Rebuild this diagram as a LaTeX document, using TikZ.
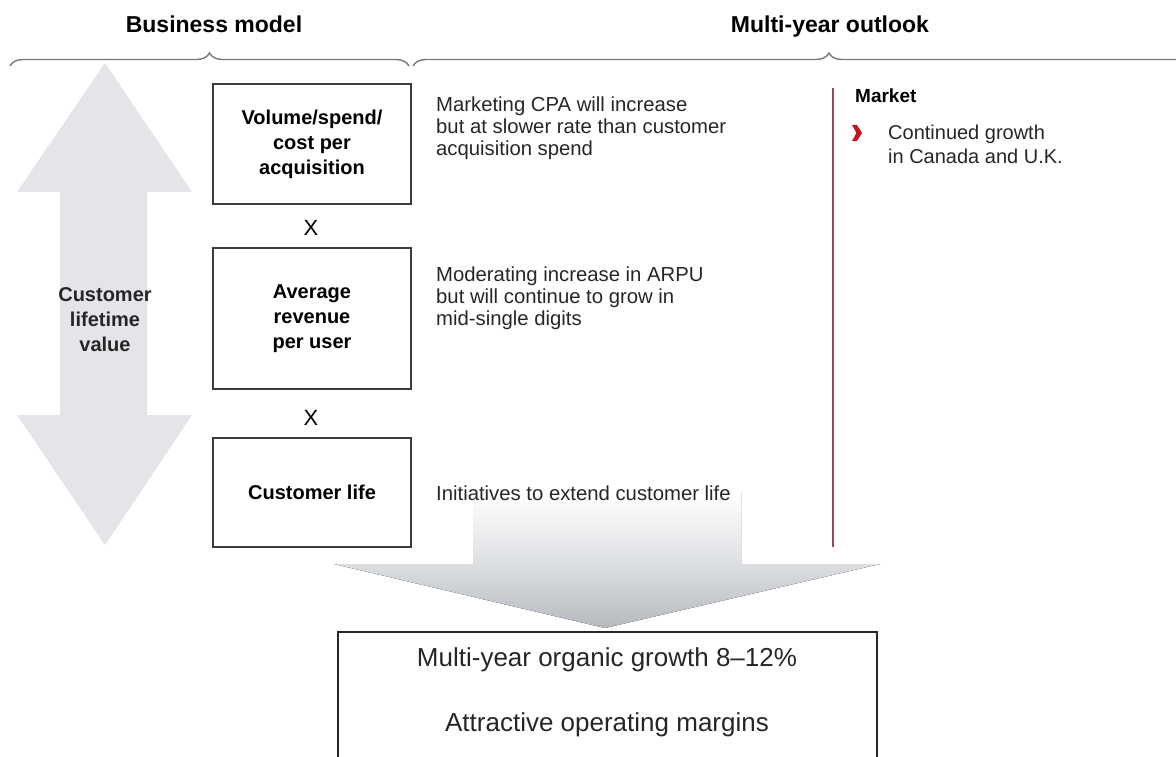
\documentclass[tikz,border=0pt]{standalone}
\usepackage{fontspec}
\setmainfont{Liberation Sans}
\usetikzlibrary{decorations.pathreplacing}
\definecolor{arrowgray}{RGB}{227,229,232}
\definecolor{bracegray}{RGB}{120,120,120}
\definecolor{boxline}{RGB}{60,60,60}
\definecolor{marketline}{RGB}{160,70,85}
\definecolor{chevred}{RGB}{200,16,30}
\definecolor{fadegray}{RGB}{182,186,190}
\begin{document}
\begin{tikzpicture}[x=1pt,y=-1pt,
  factor/.style={draw=boxline,line width=1.6pt,minimum width=198pt,
    align=center,font=\fontsize{20}{25}\selectfont\bfseries,inner sep=0pt},
  note/.style={anchor=west,align=left,inner sep=0pt,
    font=\fontsize{20.3}{22}\selectfont,text=black!85},
  times/.style={font=\fontsize{22}{24}\selectfont,inner sep=0pt},
  header/.style={font=\fontsize{23}{26}\selectfont\bfseries,inner sep=0pt,
    anchor=base},
  bracestyle/.style={draw=bracegray,line width=1.4pt,
    decorate,decoration={brace,amplitude=13pt}}]
\useasboundingbox (0,0) rectangle (1176,757);
\begin{scope}
\clip (0,0) rectangle (1176,757);

% section headers with their braces
\node[header] (bm) at (214,33) {Business model};
\node[header] (mo) at (830,33) {Multi-year outlook};
\draw[bracestyle] (10,66) -- (409,66);
\draw[bracestyle] (413,66) -- (1245,66);

% double-headed arrow for customer lifetime value
\fill[arrowgray] (105,63) -- (192,192) -- (147,192) -- (147,415) -- (192,415)
  -- (105,545) -- (17,415) -- (60,415) -- (60,192) -- (17,192) -- cycle;
\node[align=center,inner sep=0pt,font=\fontsize{20}{25}\selectfont\bfseries,
  text=black!85] (clv) at (105,320) {Customer\\lifetime\\value};

% funnel arrow into the result box
\fill[top color=white,bottom color=fadegray,middle color=arrowgray!90!fadegray]
  (473,492) -- (741,492) -- (741,564) -- (880,564) -- (605,628)
  -- (334,564) -- (473,564) -- cycle;

% the three factors
\node[factor,minimum height=120pt] (vol) at (312,144)
  {Volume/spend/\\cost per\\acquisition};
\node[times] (x1) at (311,228) {X};
\node[factor,minimum height=141pt] (arpu) at (312,318.5)
  {Average\\revenue\\per user};
\node[times] (x2) at (311,418) {X};
\node[factor,minimum height=109pt] (life) at (312,492.5) {Customer life};

% outlook notes
\node[note] (n1) at (436,128)
  {Marketing CPA will increase\\but at slower rate than customer\\acquisition spend};
\node[note] (n2) at (436,298)
  {Moderating increase in ARPU\\but will continue to grow in\\mid-single digits};
\node[note] (n3) at (436,493) {Initiatives to extend customer life};

% market column
\coordinate (mtop) at (833,88);
\coordinate (mbot) at (833,547);
\draw[marketline,line width=2pt] (mtop) -- (mbot);
\node[anchor=west,inner sep=0pt,font=\fontsize{19}{22}\selectfont\bfseries]
  (mk) at (855,96) {Market};
\fill[chevred] (852,125) -- (857,125) -- (862,133) -- (857,141) -- (852,141)
  -- (856.5,133) -- cycle;
\node[note,font=\fontsize{20}{24}\selectfont] (mt) at (888,144)
  {Continued growth\\in Canada and U.K.};

% result box, open below the page edge
\node[draw=black!85,line width=1.6pt,minimum width=539pt,minimum height=150pt,
  anchor=north,inner sep=0pt] (res) at (607.5,631) {};
\node[inner sep=0pt,font=\fontsize{26}{30}\selectfont,text=black!85]
  (r1) at (607,660) {Multi-year organic growth 8--12\%};
\node[inner sep=0pt,font=\fontsize{26}{30}\selectfont,text=black!85]
  (r2) at (607,725) {Attractive operating margins};
\end{scope}
\end{tikzpicture}
\end{document}
